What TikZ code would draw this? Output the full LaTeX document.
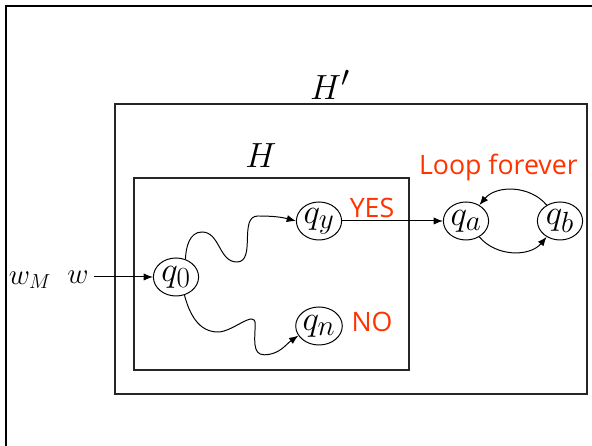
\documentclass[tikz,border=0pt]{standalone}
\usepackage{fontspec}
\newfontfamily\commentfont{Open Sans}
\usetikzlibrary{arrows.meta,positioning,shapes.geometric}
\definecolor{answer}{HTML}{FF3300}
\tikzset{
  state/.style={ellipse, draw=black, line width=.7pt, minimum width=1.13cm, minimum height=.95cm, inner sep=0pt, font=\Huge},
  machine box/.style={draw=black!85, line width=.8pt},
  step arrow/.style={-{Latex[length=2.3mm,width=1.8mm]}, line width=.7pt},
  answer/.style={text=answer, font=\commentfont\fontsize{19}{22}\selectfont},
}
\begin{document}
\begin{tikzpicture}[font=\huge]
  \useasboundingbox (0,0) rectangle (14.8,11.15);

  % slide frame
  \draw[line width=1.5pt] (14.8,11) -- (.15,11) -- (.15,0);

  % machines H' and H
  \draw[machine box] (2.875,1.3) rectangle (14.675,8.55);
  \node[font=\Huge] (hprime) at (8.25,9.02) {$H'$};
  \draw[machine box] (3.35,1.9) rectangle (10.225,6.7);
  \node[font=\Huge] (hlabel) at (6.52,7.26) {$H$};

  % states
  \node[state] (q0) at (4.4,4.225) {$q_0$};
  \node[state] (qy) at (7.975,5.625) {$q_y$};
  \node[state] (qn) at (7.975,3.0) {$q_n$};
  \node[state] (qa) at (11.65,5.625) {$q_a$};
  \node[state] (qb) at (14.0,5.625) {$q_b$};

  % input
  \node (wm) at (.75,4.14) {$w_M$};
  \node (w) at (1.95,4.225) {$w$};
  \draw[step arrow] (w) -- (q0);

  % computation of H
  \draw[step arrow] (q0.62) to[out=88,in=180] (5.05,5.35)
    to[out=0,in=180] (5.92,4.6) to[out=0,in=180] (6.45,5.75)
    to[out=0,in=165] (qy.west);
  \draw[step arrow] (q0.-65) to[out=-75,in=180] (5.45,2.85)
    to[out=0,in=90] (6.38,3.05) to[out=-90,in=180] (6.6,2.28)
    to[out=0,in=215] (qn.205);

  % yes branch loops
  \draw[step arrow] (qy) -- (qa);
  \draw[step arrow] (qa) to[bend right=50] (qb);
  \draw[step arrow] (qb) to[bend right=50] (qa);

  % answers
  \node[answer] (yes) at (9.3,5.96) {YES};
  \node[answer] (no) at (9.3,3.11) {NO};
  \node[answer] (loop) at (12.46,6.97) {Loop forever};
\end{tikzpicture}
\end{document}
